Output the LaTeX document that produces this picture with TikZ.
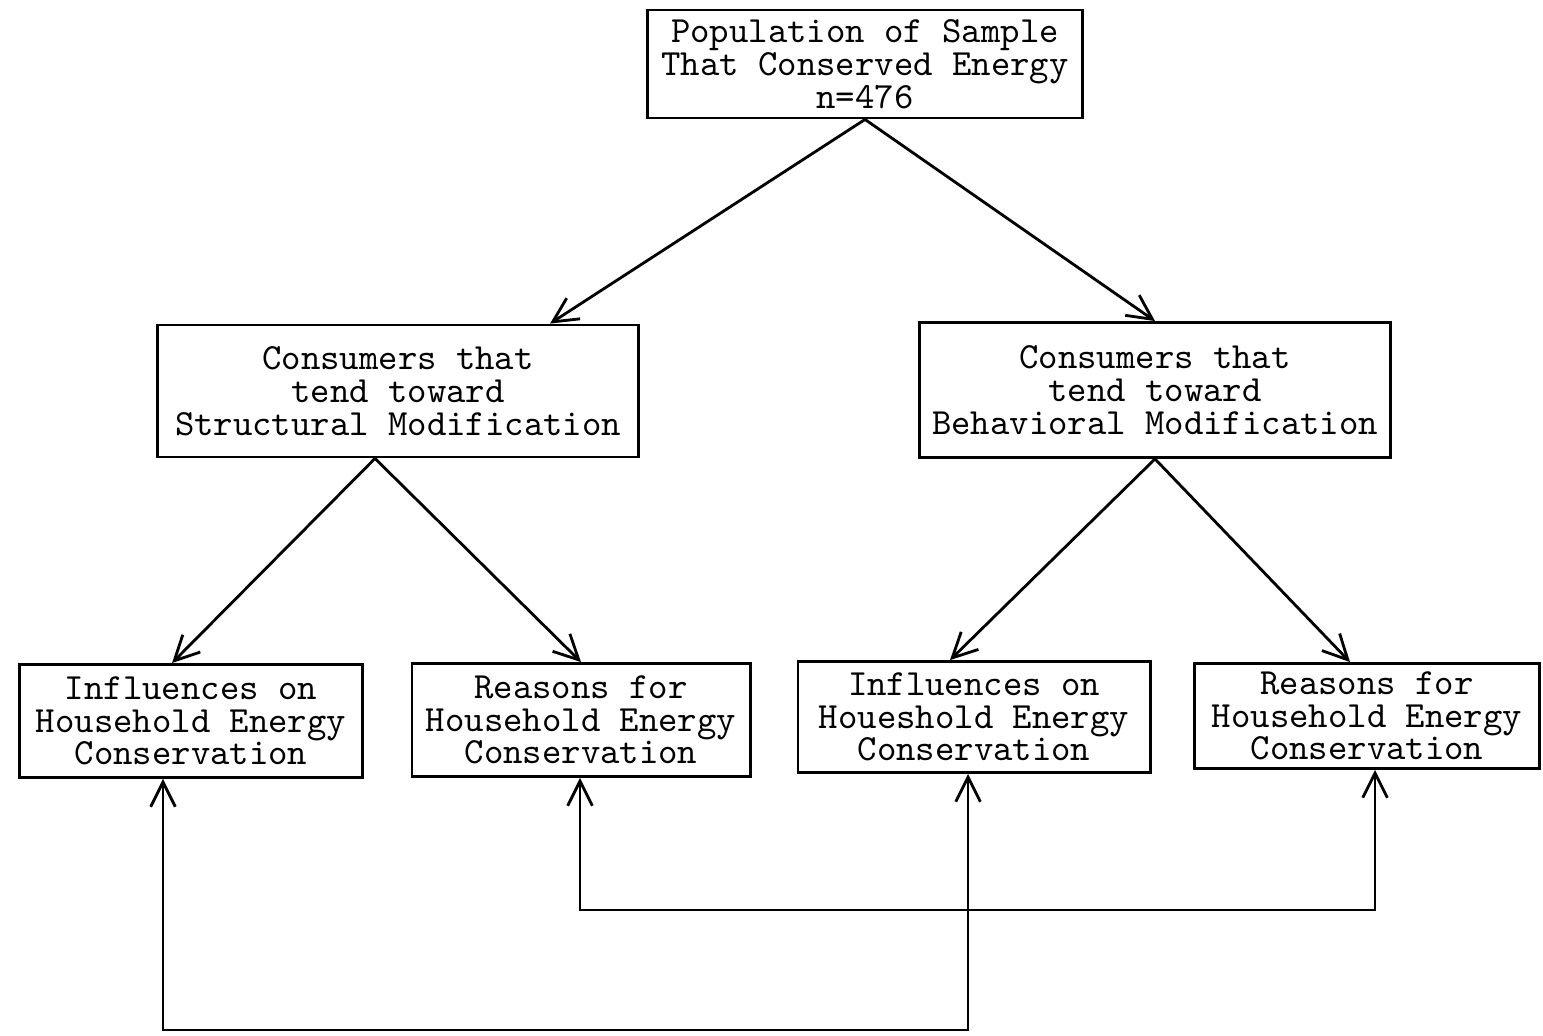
\documentclass[tikz,border=0pt]{standalone}
\usepackage{tikz}
\usetikzlibrary{arrows.meta,positioning}
\tikzstyle{arrow} = [thick,->,>={Straight Barb[length=7pt,width=7pt]}]
\tikzstyle{box} = [draw,thick,align=center,inner sep=0pt,font=\ttfamily\fontsize{10.5}{9.3}\selectfont]

\begin{document}
\begin{tikzpicture}[x=0.01cm,y=-0.01cm]
\useasboundingbox (0,0) rectangle (1543,1035);
% top
\node[box,minimum width=4.35cm,minimum height=1.08cm] (pop) at (865,64) {Population of Sample\\That Conserved Energy\\n=476};
% middle row
\node[box,minimum width=4.8cm,minimum height=1.32cm] (struc) at (398,391) {Consumers that\\tend toward\\Structural Modification};
\node[box,minimum width=4.7cm,minimum height=1.35cm] (behav) at (1155,390) {Consumers that\\tend toward\\Behavioral Modification};
% bottom row
\node[box,minimum width=3.43cm,minimum height=1.13cm] (inflS) at (191,721) {Influences on\\Household Energy\\Conservation};
\node[box,minimum width=3.38cm,minimum height=1.13cm] (reasS) at (581,720) {Reasons for\\Household Energy\\Conservation};
\node[box,minimum width=3.52cm,minimum height=1.11cm] (inflB) at (974,717) {Influences on\\Houeshold Energy\\Conservation};
\node[box,minimum width=3.45cm,minimum height=1.05cm] (reasB) at (1367,716) {Reasons for\\Household Energy\\Conservation};
% arrows down
\draw[arrow] (pop.south) -- ([xshift=1.52cm]struc.north);
\draw[arrow] (pop.south) -- (behav.north);
\draw[arrow] ([xshift=-0.23cm]struc.south) -- ([xshift=-0.19cm]inflS.north);
\draw[arrow] ([xshift=-0.23cm]struc.south) -- (reasS.north);
\draw[arrow] (behav.south) -- ([xshift=-0.24cm]inflB.north);
\draw[arrow] (behav.south) -- ([xshift=-0.17cm]reasB.north);
% links below
\coordinate (upA) at (580,910);
\coordinate (upB) at (1375,910);
\coordinate (lowA) at (163,1030);
\coordinate (lowB) at (968,1030);
\draw[arrow,<->] (reasS.south -| upA) -- (upA) -- (upB) -- (reasB.south -| upB);
\draw[arrow,<->] (inflS.south -| lowA) -- (lowA) -- (lowB) -- (inflB.south -| lowB);
\end{tikzpicture}
\end{document}
